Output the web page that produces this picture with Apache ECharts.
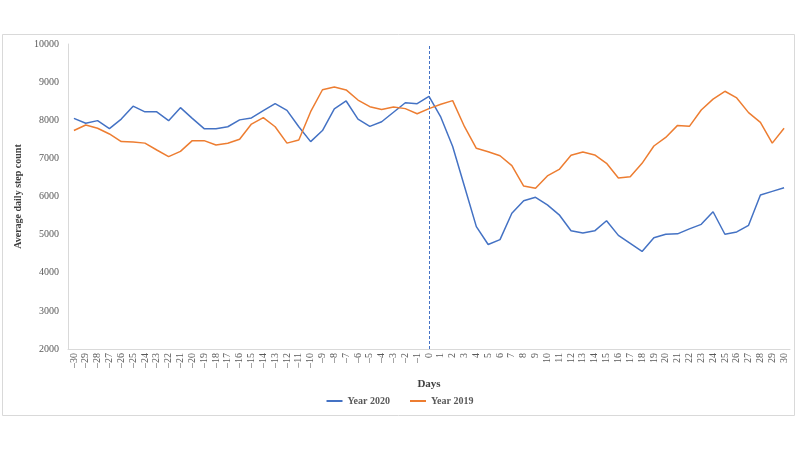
<!DOCTYPE html>
<html>
<head>
<meta charset="utf-8">
<script src="https://cdn.jsdelivr.net/npm/echarts@6/dist/echarts.min.js"></script>
<style>html,body{margin:0;padding:0;background:#fff}#c{width:800px;height:450px}</style>
</head>
<body>
<div id="c"></div>
<script>
var days = [];
for (var d = -30; d <= 30; d++) days.push(d);
var dayLabels = days.map(function (d) { return d < 0 ? '\u2013' + (-d) : String(d); });

var year2020 = [8050, 7920, 7990, 7780, 8030, 8370, 8220, 8220, 7990, 8330,
  8050, 7780, 7780, 7830, 8010, 8060, 8250, 8435, 8260, 7830,
  7440, 7730, 8300, 8505, 8030, 7840, 7960, 8210, 8460, 8435,
  8625,
  8080, 7310, 6260, 5210, 4740, 4870, 5560, 5890, 5980, 5780,
  5520, 5100, 5040, 5100, 5365, 4980, 4770, 4560, 4920, 5010,
  5020, 5150, 5270, 5600, 5010, 5070, 5245, 6040, 6135, 6230];

var year2019 = [7730, 7875, 7790, 7640, 7440, 7430, 7400, 7220, 7045, 7185,
  7465, 7465, 7350, 7395, 7500, 7900, 8070, 7830, 7400, 7480,
  8225, 8800, 8870, 8795, 8530, 8355, 8280, 8345, 8305, 8170,
  8305,
  8420, 8515, 7830, 7265, 7175, 7070, 6810, 6275, 6215, 6540,
  6710, 7080, 7165, 7090, 6870, 6485, 6520, 6870, 7325, 7550,
  7865, 7840, 8270, 8555, 8760, 8585, 8200, 7945, 7400, 7790];

var yTicks = [2000, 3000, 4000, 5000, 6000, 7000, 8000, 9000, 10000];
var eventDay = '0';

var font = '"Liberation Serif", "Times New Roman", serif';
var chart = echarts.init(document.getElementById('c'));
chart.setOption({
  animation: false,
  backgroundColor: '#ffffff',
  textStyle: { fontFamily: font },
  graphic: [{
    type: 'rect', silent: true, z: -1,
    shape: { x: 2.5, y: 34.5, width: 792, height: 381 },
    style: { fill: 'none', stroke: '#d9d9d9', lineWidth: 1 }
  }],
  grid: { left: 68, right: 10, top: 44, bottom: 101, containLabel: false },
  legend: {
    bottom: 39, left: 'center',
    itemWidth: 16, itemHeight: 2, itemGap: 20,
    icon: 'rect',
    textStyle: { fontFamily: font, fontSize: 10, fontWeight: 'bold', color: '#595959' },
    data: ['Year 2020', 'Year 2019']
  },
  xAxis: {
    type: 'category',
    data: dayLabels,
    boundaryGap: true,
    name: 'Days',
    nameLocation: 'middle',
    nameGap: 30,
    nameTextStyle: { fontFamily: font, fontSize: 11, fontWeight: 'bold', color: '#404040' },
    axisLine: { lineStyle: { color: '#d9d9d9', width: 1 } },
    axisTick: { show: false },
    axisLabel: { interval: 0, rotate: 90, fontSize: 10, color: '#595959', fontFamily: font, margin: 4 },
    splitLine: { show: false }
  },
  yAxis: {
    type: 'value',
    min: yTicks[0], max: yTicks[yTicks.length - 1], interval: 1000,
    name: 'Average daily step count',
    nameLocation: 'middle',
    nameGap: 43,
    nameTextStyle: { fontFamily: font, fontSize: 10, fontWeight: 'bold', color: '#404040' },
    axisLine: { show: true, lineStyle: { color: '#d9d9d9', width: 1 } },
    axisTick: { show: false },
    axisLabel: { fontSize: 10, color: '#595959', fontFamily: font, margin: 9,
      formatter: function (v) { return String(v); } },
    splitLine: { show: false }
  },
  series: [{
    name: 'Year 2020', type: 'line', data: year2020,
    symbol: 'none', smooth: false,
    lineStyle: { color: '#4472c4', width: 1.5 },
    itemStyle: { color: '#4472c4' },
    markLine: {
      silent: true, symbol: ['none', 'none'],
      label: { show: false },
      lineStyle: { color: '#4472c4', type: [3, 2], width: 1 },
      data: [{ xAxis: eventDay }]
    }
  }, {
    name: 'Year 2019', type: 'line', data: year2019,
    symbol: 'none', smooth: false,
    lineStyle: { color: '#ed7d31', width: 1.5 },
    itemStyle: { color: '#ed7d31' }
  }]
});
</script>
</body>
</html>
